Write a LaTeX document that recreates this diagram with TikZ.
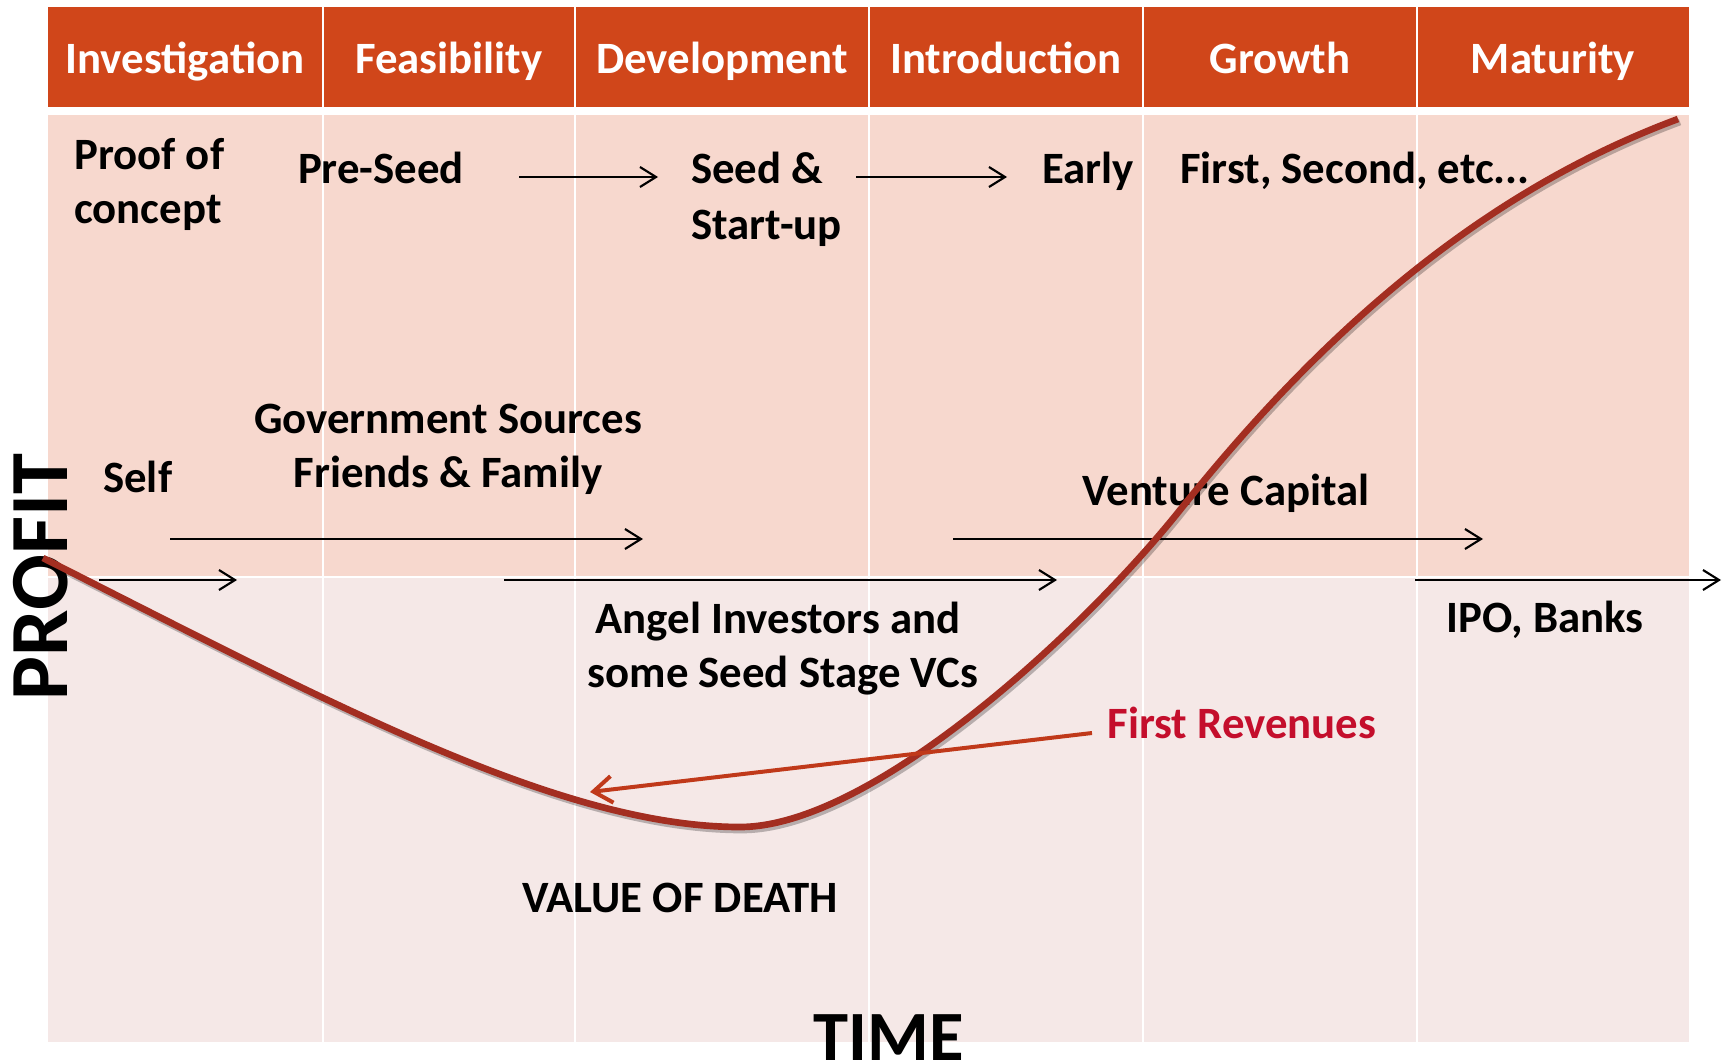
\documentclass[tikz,border=0pt]{standalone}
\usepackage{fontspec}
\setmainfont{Carlito}
\usetikzlibrary{arrows.meta}

\definecolor{hdrorange}{RGB}{208,70,26}
\definecolor{bandtop}{RGB}{247,216,206}
\definecolor{bandlow}{RGB}{245,232,231}
\definecolor{curvered}{RGB}{163,46,33}
\definecolor{revarrow}{RGB}{192,57,26}
\definecolor{revtext}{RGB}{196,14,44}

\begin{document}
\begin{tikzpicture}[x=0.75pt,y=0.75pt,yscale=-1,xscale=1,
  lbl/.style={inner sep=0pt, font=\fontsize{33.6}{40}\selectfont\bfseries},
  hdr/.style={lbl, text=white, anchor=base},
  axislbl/.style={inner sep=0pt, anchor=base},
  sep/.style={white, line width=1.5pt},
  fundarrow/.style={line width=1.6pt, -{Straight Barb[length=12pt, width=15pt]}},
  revline/.style={revarrow, line width=3pt, -{Straight Barb[length=14pt, width=20pt]}},
  profitcurve/.style={curvered, line width=5pt},
  curveshadow/.style={black, opacity=.25, line width=5pt, shift={(2,3)}}]
\useasboundingbox (0,0) rectangle (1725,1064);

%Shape: header and bands
\fill[hdrorange] (48,7) rectangle (1689,107);
\fill[bandtop] (48,115) rectangle (1689,577);
\fill[bandlow] (48,577) rectangle (1689,1042);
%Straight Lines: white column rules
\draw[sep] (48,577) -- (1689,577);
\draw[sep] (323,7) -- (323,1042);
\draw[sep] (575,7) -- (575,1042);
\draw[sep] (869,7) -- (869,1042);
\draw[sep] (1143,7) -- (1143,1042);
\draw[sep] (1417,7) -- (1417,1042);

% Text Node: stages
\node[hdr] (investigation) at (185,73) {Investigation};
\node[hdr] (feasibility) at (449,73) {Feasibility};
\node[hdr] (development) at (722,73) {Development};
\node[hdr] (introduction) at (1006,73) {Introduction};
\node[hdr] (growth) at (1280,73) {Growth};
\node[hdr] (maturity) at (1553,73) {Maturity};

% Text Node: rounds
\node[lbl, anchor=base west] (proof) at (74,169) {Proof of};
\node[lbl, anchor=base west] (concept) at (74,223) {concept};
\node[lbl, anchor=base] (preseed) at (381,183) {Pre-Seed};
\node[lbl, anchor=base west] (seed) at (691,183) {Seed \&};
\node[lbl, anchor=base west] (startup) at (691,239) {Start-up};
\node[lbl, anchor=base west] (early) at (1042,183) {Early};
\node[lbl, anchor=base west] (later) at (1180,183) {First, Second, etc...};

% Text Node: sources
\node[lbl, anchor=base west] (self) at (103,492) {Self};
\node[lbl, anchor=base] (gov) at (448,433) {Government Sources};
\node[lbl, anchor=base] (friends) at (448,487) {Friends \& Family};
\node[lbl, anchor=base] (angel) at (778,633) {Angel Investors and};
\node[lbl, anchor=base] (seedvc) at (783,687) {some Seed Stage VCs};
\node[lbl, anchor=base] (vc) at (1226,505) {Venture Capital};
\node[lbl, anchor=base] (ipo) at (1545,632) {IPO, Banks};
\node[lbl, anchor=base, text=revtext] (revenues) at (1242,738) {First Revenues};
\node[lbl, anchor=base] (valley) at (680,912) {VALUE OF DEATH};

% Text Node: axes
\node[axislbl, font=\fontsize{53}{53}\selectfont\bfseries] (time) at (889,1060) {TIME};
\node[axislbl, font=\fontsize{62}{62}\selectfont\bfseries, rotate=90] (profit) at (67,577) {PROFIT};

% arrow ends
\coordinate (preA) at (519,177);
\coordinate (preB) at (658,177);
\coordinate (seedA) at (856,177);
\coordinate (seedB) at (1007,177);
\coordinate (govA) at (170,539);
\coordinate (govB) at (643,539);
\coordinate (selfA) at (99,580);
\coordinate (selfB) at (237,580);
\coordinate (angelA) at (504,580);
\coordinate (angelB) at (1057,580);
\coordinate (vcA) at (953,539);
\coordinate (vcB) at (1483,539);
\coordinate (ipoA) at (1415,580);
\coordinate (ipoB) at (1721,580);
\coordinate (revA) at (1092,733);
\coordinate (revB) at (590,792);

%Straight Lines: funding arrows
\draw[fundarrow] (preA) -- (preB);
\draw[fundarrow] (seedA) -- (seedB);
\draw[fundarrow] (govA) -- (govB);
\draw[fundarrow] (selfA) -- (selfB);
\draw[fundarrow] (angelA) -- (angelB);
\draw[fundarrow] (vcA) -- (vcB);
\draw[fundarrow] (ipoA) -- (ipoB);

%Curve Lines: profit over time
\draw[curveshadow] (43,558) .. controls (330,703) and (560,827) .. (740,827) .. controls (870,827) and (1080,635) .. (1180,510) .. controls (1300,360) and (1460,200) .. (1678,119);
\draw[profitcurve] (43,558) .. controls (330,703) and (560,827) .. (740,827) .. controls (870,827) and (1080,635) .. (1180,510) .. controls (1300,360) and (1460,200) .. (1678,119);

%Straight Lines: first revenues pointer
\draw[revline] (revA) -- (revB);

\end{tikzpicture}
\end{document}
